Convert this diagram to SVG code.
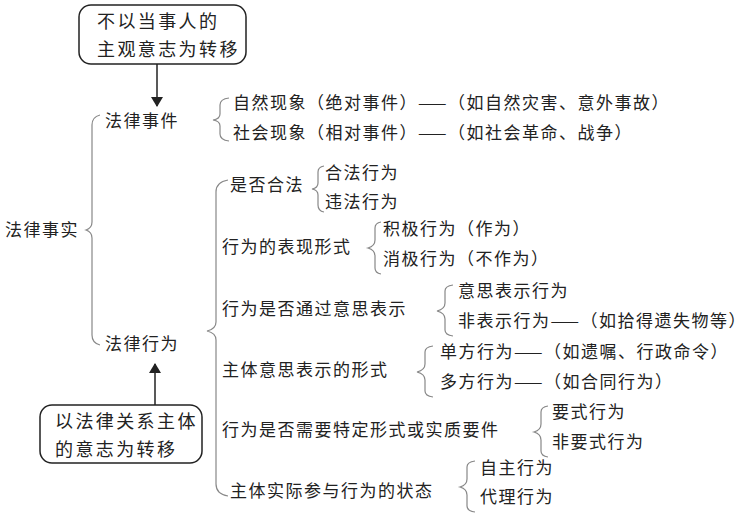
<svg xmlns="http://www.w3.org/2000/svg" width="747" height="518" viewBox="0 0 747 518">
<style>
text{font-family:"Noto Sans CJK SC","Noto Sans",sans-serif;font-size:17px;letter-spacing:1.5px;fill:#222}
.bx{font-size:18px;letter-spacing:2.4px}
.b{fill:none;stroke:#888;stroke-width:1.2}
.box{fill:#fff;stroke:#222;stroke-width:1.5}
.a{stroke:#222;stroke-width:1.5;fill:none;marker-end:url(#ah)}
</style>
<defs><marker id="ah" markerWidth="10" markerHeight="12" refX="9" refY="6" orient="auto" markerUnits="userSpaceOnUse"><path d="M0,0L10,6L0,12z" fill="#222"/></marker></defs>
<rect width="747" height="518" fill="#fff"/>
<g id="connectors">
<path class="a" d="M157,64V106"/>
<path class="a" d="M155,405V364"/>
<path class="b" d="M100,115Q92,117 92,125V222Q92,228 86,230Q92,232 92,238V335Q92,343 100,345"/>
<path class="b" d="M229,98Q220,99 220,105V114Q220,119 213,120Q220,121 220,126V134Q220,140 229,141"/>
<path class="b" d="M228,180Q216,182 216,192V322Q216,329 207,331Q216,333 216,340V484Q216,494 228,496"/>
<path class="b" d="M324,166Q318,167 318,172V183Q318,188 312,189Q318,190 318,195V205Q318,211 324,212"/>
<path class="b" d="M381,222Q375,223 375,228V240Q375,246 368,248Q375,250 375,256V268Q375,273 381,274"/>
<path class="b" d="M453,285Q445,286 445,291V303Q445,309 437,311Q445,313 445,319V330Q445,335 453,336"/>
<path class="b" d="M433,346Q425,347 425,352V364Q425,370 417,372Q425,374 425,380V391Q425,396 433,397"/>
<path class="b" d="M548,406Q541,407 541,412V424Q541,430 534,432Q541,434 541,440V451Q541,456 548,457"/>
<path class="b" d="M475,461Q467,462 467,467V479Q467,485 460,487Q467,489 467,495V506Q467,511 475,512"/>
</g>
<g id="box1"><rect class="box" x="79" y="5" width="167" height="59" rx="12"/><text class="bx" x="97" y="28">不以当事人的</text><text class="bx" x="97" y="56">主观意志为转移</text></g>
<g id="box2"><rect class="box" x="40" y="405" width="162" height="58" rx="12"/><text class="bx" x="55" y="428">以法律关系主体</text><text class="bx" x="55" y="456">的意志为转移</text></g>
<g id="root"><text x="5" y="236">法律事实</text></g>
<g id="event"><text x="105" y="127">法律事件</text>
<text x="233" y="109">自然现象（绝对事件）——（如自然灾害、意外事故）</text>
<text x="233" y="139">社会现象（相对事件）——（如社会革命、战争）</text></g>
<g id="act"><text x="105" y="350">法律行为</text></g>
<g id="c1"><text x="230" y="191">是否合法</text><text x="325" y="179">合法行为</text><text x="325" y="208">违法行为</text></g>
<g id="c2"><text x="222" y="253">行为的表现形式</text><text x="383" y="235">积极行为（作为）</text><text x="383" y="265">消极行为（不作为）</text></g>
<g id="c3"><text x="222" y="315">行为是否通过意思表示</text><text x="458" y="297">意思表示行为</text><text x="458" y="327">非表示行为——（如拾得遗失物等）</text></g>
<g id="c4"><text x="222" y="376">主体意思表示的形式</text><text x="440" y="358">单方行为——（如遗嘱、行政命令）</text><text x="440" y="388">多方行为——（如合同行为）</text></g>
<g id="c5"><text x="222" y="436">行为是否需要特定形式或实质要件</text><text x="552" y="418">要式行为</text><text x="552" y="448">非要式行为</text></g>
<g id="c6"><text x="230" y="497">主体实际参与行为的状态</text><text x="480" y="474">自主行为</text><text x="480" y="503">代理行为</text></g>
</svg>
